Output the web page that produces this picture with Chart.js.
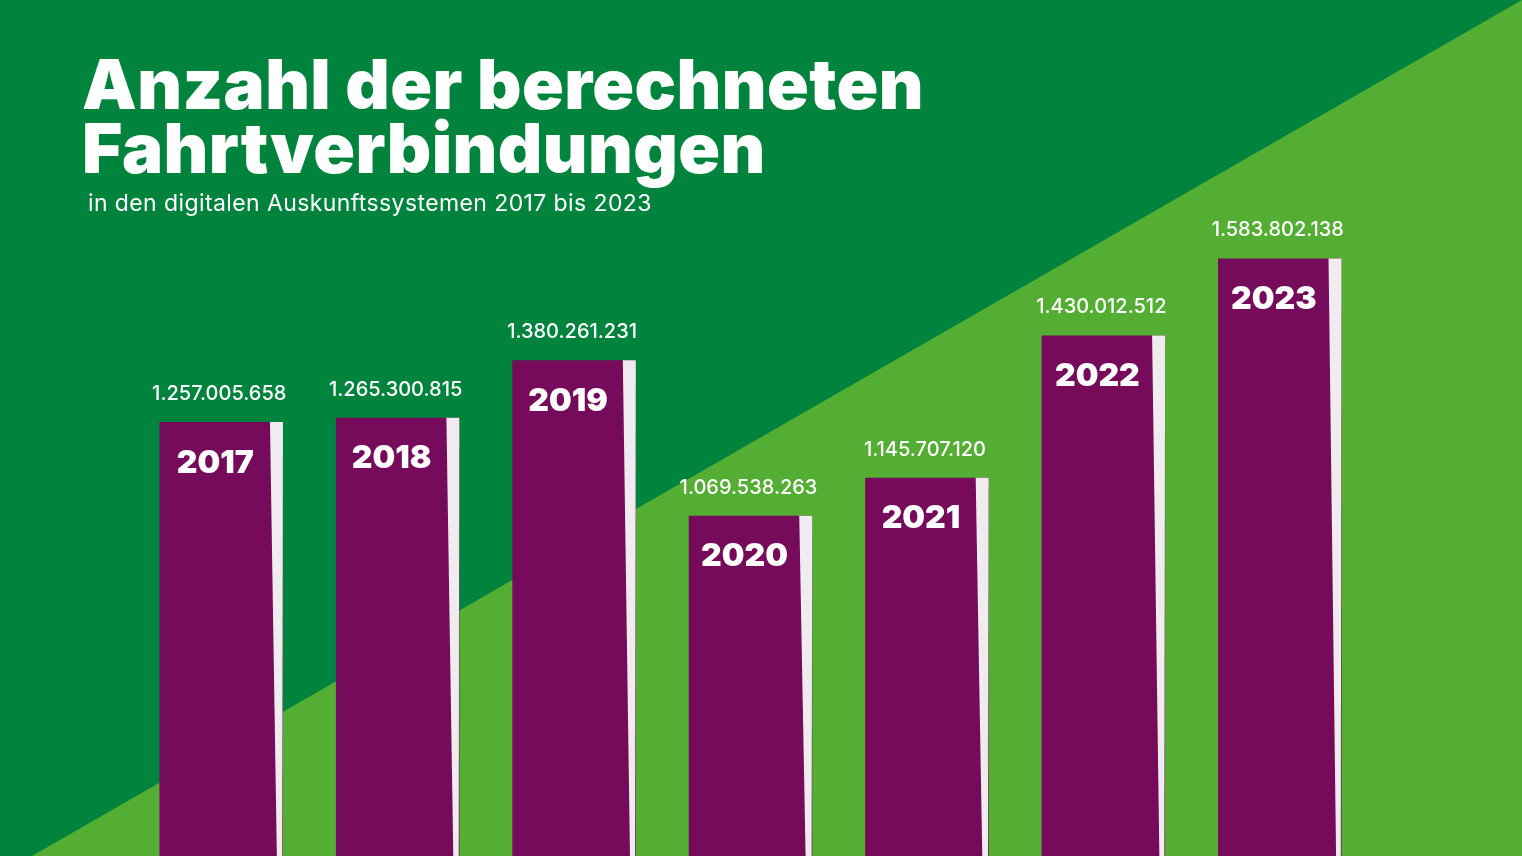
<!DOCTYPE html>
<html lang="de">
<head>
<meta charset="utf-8">
<title>Anzahl der berechneten Fahrtverbindungen</title>
<script src="https://cdn.jsdelivr.net/npm/chart.js@4.4.1/dist/chart.umd.min.js"></script>
<style>
html,body{margin:0;padding:0;background:#00843d;overflow:hidden}
#wrap{position:relative;width:1522px;height:856px}
#chart{position:absolute;left:0;top:0}
h1{position:absolute;left:82px;top:52px;margin:0;color:#fff;font:900 69px/64px Inter,Lato,sans-serif;letter-spacing:0.4px;z-index:2}
#sub{position:absolute;left:88px;top:189px;margin:0;color:#fff;font:400 23px Inter,Lato,sans-serif;letter-spacing:0.4px;z-index:2}
</style>
</head>
<body>
<div id="wrap">
  <canvas id="chart" width="1522" height="856"></canvas>
  <h1>Anzahl der berechneten<br>Fahrtverbindungen</h1>
  <p id="sub">in den digitalen Auskunftssystemen 2017 bis 2023</p>
</div>
<script>
const years=["2017","2018","2019","2020","2021","2022","2023"];
const trips=[1257005658,1265300815,1380261231,1069538263,1145707120,1430012512,1583802138];

const darkGreen="#00843d", lightGreen="#54ae33", purple="#750b5a", paper="#efebef";

// thousands separator with dots
function fmt(n){ return String(n).replace(/\B(?=(\d{3})+(?!\d))/g,"."); }

// background: dark green with light green diagonal
const backdrop={
  id:"backdrop",
  beforeDraw(chart){
    const c=chart.ctx, w=chart.width, h=chart.height;
    c.save();
    c.fillStyle=darkGreen; c.fillRect(0,0,w,h);
    c.fillStyle=lightGreen;
    c.beginPath(); c.moveTo(32,h); c.lineTo(w,0); c.lineTo(w,h); c.closePath(); c.fill();
    c.restore();
  }
};

// slanted paper strip on the right of each bar + labels
const barDeco={
  id:"barDeco",
  afterDatasetsDraw(chart){
    const c=chart.ctx;
    const meta=chart.getDatasetMeta(0);
    c.save();
    meta.data.forEach((bar,i)=>{
      const right=bar.x+bar.width/2;
      c.fillStyle=paper;
      c.beginPath();
      c.moveTo(right-13,bar.y); c.lineTo(right,bar.y);
      c.lineTo(right-1,bar.base); c.lineTo(right-3,bar.base);
      c.closePath(); c.fill();

      c.fillStyle="#fff";
      c.textAlign="center"; c.textBaseline="middle";
      c.font="500 20px Inter, Lato, sans-serif";
      c.fillText(fmt(trips[i]),bar.x-2,bar.y-28);
      c.font="900 32px Inter, Lato, sans-serif";
      c.fillText(years[i],bar.x-6,bar.y+41);
    });
    c.restore();
  }
};

new Chart(document.getElementById("chart"),{
  type:"bar",
  data:{labels:years,datasets:[{data:trips,backgroundColor:purple,borderWidth:0,barPercentage:0.7,categoryPercentage:1}]},
  options:{
    responsive:false,animation:false,
    layout:{padding:{left:133,right:154,top:0,bottom:0}},
    plugins:{legend:{display:false},tooltip:{enabled:false}},
    scales:{
      x:{display:false},
      y:{display:false,min:390e6,max:2100e6}
    }
  },
  plugins:[backdrop,barDeco]
});
</script>
</body>
</html>
